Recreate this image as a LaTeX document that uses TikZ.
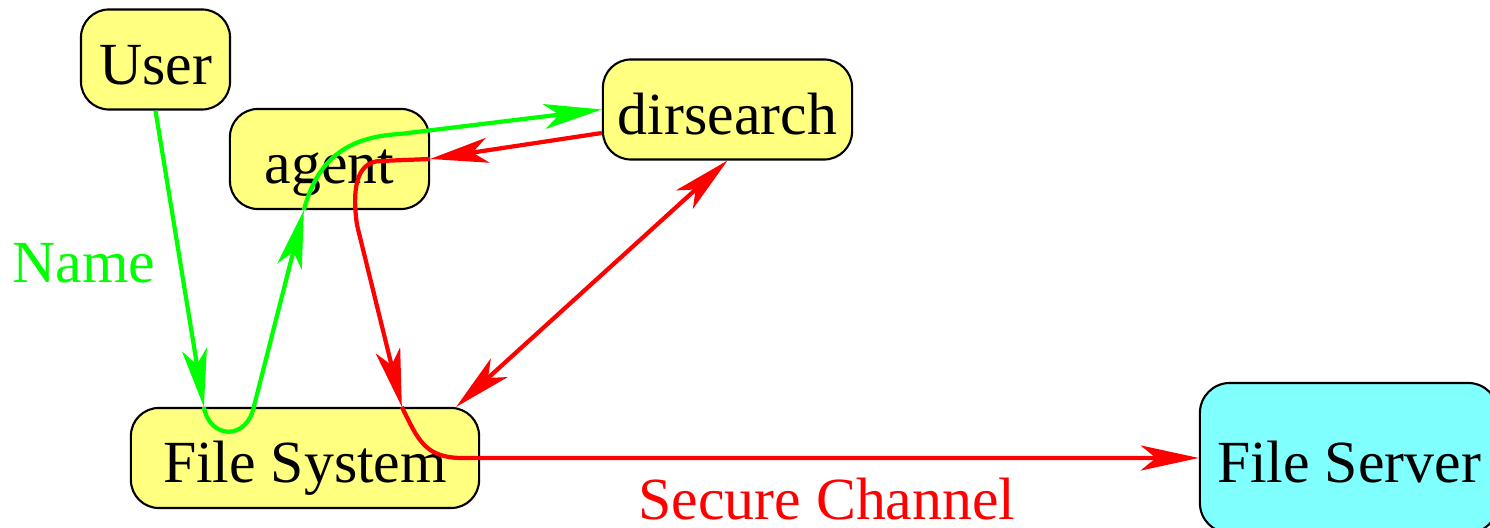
\documentclass[tikz,border=0pt]{standalone}
\usepackage{fontspec}
\setmainfont{Liberation Serif}
\usetikzlibrary{arrows.meta,calc}
\definecolor{boxyellow}{HTML}{FFFF80}
\definecolor{boxcyan}{HTML}{80FFFF}
\definecolor{linkgreen}{HTML}{00FF00}
\definecolor{linkred}{HTML}{FF0000}
\tikzset{
  figbox/.style={draw=black, line width=0.6pt, fill=boxyellow, rounded corners=0.28cm,
                 inner xsep=0.1cm, minimum height=1cm, text height=14.2pt, text depth=0pt,
                 font=\fontsize{17}{20}\selectfont},
  srvbox/.style={figbox, fill=boxcyan, rounded corners=0.3cm},
  lbl/.style={anchor=base, inner sep=0pt, font=\fontsize{17}{20}\selectfont},
  garr/.style={-{Stealth[length=5.8mm, width=2.5mm, inset=1.5mm]}, line width=1.2pt, color=linkgreen},
  rarr/.style={-{Stealth[length=5.8mm, width=2.5mm, inset=1.5mm]}, line width=1.2pt, color=linkred},
  rdarr/.style={{Stealth[length=5.8mm, width=2.5mm, inset=1.5mm]}-{Stealth[length=5.8mm, width=2.5mm, inset=1.5mm]},
                line width=1.2pt, color=linkred}}

\begin{document}
\begin{tikzpicture}[x=0.01cm, y=-0.01cm]
  \useasboundingbox (0,0) rectangle (1490,528);
  % boxes
  \node[figbox, minimum width=1.49cm] (user) at (155.5,59.5) {User};
  \node[figbox, minimum width=1.99cm] (agent) at (329.5,159) {agent};
  \node[figbox, minimum width=2.49cm] (dirsearch) at (727.5,109.5) {dirsearch};
  \node[figbox, minimum width=3.48cm] (filesys) at (305,458) {File System};
  \node[srvbox, minimum width=2.98cm, minimum height=1.5cm] (fileserver) at (1349,458) {File Server};
  % labels
  \node[lbl, text=linkgreen] (namelbl) at (84,283) {Name};
  \node[lbl, text=linkred] (chanlbl) at (827,520) {Secure Channel};
  % points where the links touch the boxes
  \coordinate (gin) at ($(filesys.north west)+(74,0)$);
  \coordinate (gout) at ($(filesys.north west)+(124,0)$);
  \coordinate (gagent) at ($(agent.south west)+(75,0)$);
  \coordinate (rin) at ($(filesys.north west)+(272,0)$);
  % name lookup (green)
  \draw[garr] (user.south) -- (gin);
  \draw[garr] (gin) .. controls (210,440) and (247,440) .. (gout) -- (gagent);
  \draw[garr] (gagent) .. controls (317,161) and (345,137) .. (400,134) -- (dirsearch.west);
  % secure channel (red)
  \draw[rarr] ($(dirsearch.west)+(0,23.5)$) -- (agent.east);
  \draw[rarr] (agent.east) -- (380,161) .. controls (356,162) and (352,190) .. (357,225) -- (rin);
  \draw[rarr] (rin) .. controls (418,440) and (425,457) .. (460,458) -- (fileserver.west);
  \draw[rdarr] (dirsearch.south) -- ($(filesys.north east)+(-24,0)$);
\end{tikzpicture}
\end{document}
